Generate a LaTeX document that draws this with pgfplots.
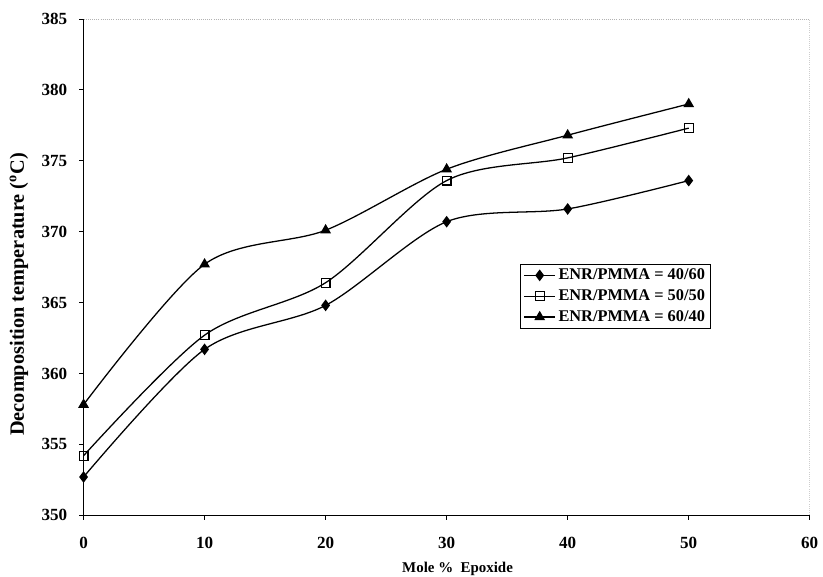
\documentclass[border=0pt]{standalone}
\usepackage{fontspec}
\setmainfont{Liberation Serif}
\usepackage{pgfplots}
\pgfplotsset{compat=1.18}

% Decomposition temperature of ENR/PMMA blends against epoxide content
\pgfplotstableread{
x    a      b      c
0    352.7  354.2  357.8
10   361.7  362.7  367.7
20   364.8  366.4  370.1
30   370.7  373.6  374.4
40   371.6  375.2  376.8
50   373.6  377.3  379.0
}\decomp

\begin{document}
\begin{tikzpicture}
\begin{axis}[
  width=511pt, height=349.3pt, scale only axis,
  xmin=0, xmax=60, ymin=350, ymax=385,
  xtick={0,10,...,60}, ytick={350,355,...,385},
  axis lines*=left,
  axis line style={line width=0.6pt},
  tick align=outside, major tick length=3pt,
  tick style={black, line width=0.5pt},
  /pgf/number format/assume math mode=true,
  ticklabel style={font=\fontsize{12}{14}\selectfont\bfseries},
  xticklabel style={yshift=-9pt},
  yticklabel style={xshift=-5pt},
  xlabel={Mole \%\ \ Epoxide},
  xlabel style={font=\fontsize{10.5}{12}\selectfont\bfseries, at={(axis description cs:0.515,-0.1082)}, anchor=center, inner sep=0pt},
  legend cell align=left,
  legend style={at={(axis cs:36.1,367.75)}, anchor=north west,
    draw=black, line width=0.5pt, inner xsep=2pt, inner ysep=1.5pt, row sep=1.5pt,
    font=\fontsize{11.5}{13.5}\selectfont\bfseries},
  legend image code/.code={\draw[mark repeat=2, mark phase=2] plot coordinates {(0cm,0cm) (0.38cm,0cm) (0.76cm,0cm)};},
  every axis plot/.append style={black, line width=0.9pt, smooth},
]
\draw[gray!60, densely dotted, line width=0.5pt] (rel axis cs:0,1) -- (rel axis cs:1,1) -- (rel axis cs:1,0);
\coordinate (ll) at (rel axis cs:0,0);
\coordinate (ur) at (rel axis cs:1,1);
\coordinate (ylab) at (rel axis cs:-0.089,0.445);
\addplot[mark=diamond*, mark size=3.4pt, mark options={solid, fill=black}] table[x=x, y=a] {\decomp};
\addlegendentry{ENR/PMMA = 40/60}
\addplot[mark=square, mark size=3.1pt, mark options={solid, fill=white, line width=0.8pt}] table[x=x, y=b] {\decomp};
\addlegendentry{ENR/PMMA = 50/50}
\addplot[mark=triangle*, mark size=3.5pt, mark options={solid, fill=black}] table[x=x, y=c] {\decomp};
\addlegendentry{ENR/PMMA = 60/40}
\end{axis}
\node[rotate=90, anchor=center, inner sep=0pt, font=\fontsize{14.3}{16}\selectfont\bfseries] at (ylab) {Decomposition temperature (\textsuperscript{o}C)};
\path[use as bounding box] (ll) ++(-58.8pt,-43.4pt) rectangle ([shift={(6.3pt,13.3pt)}]ur);
\end{tikzpicture}
\end{document}
